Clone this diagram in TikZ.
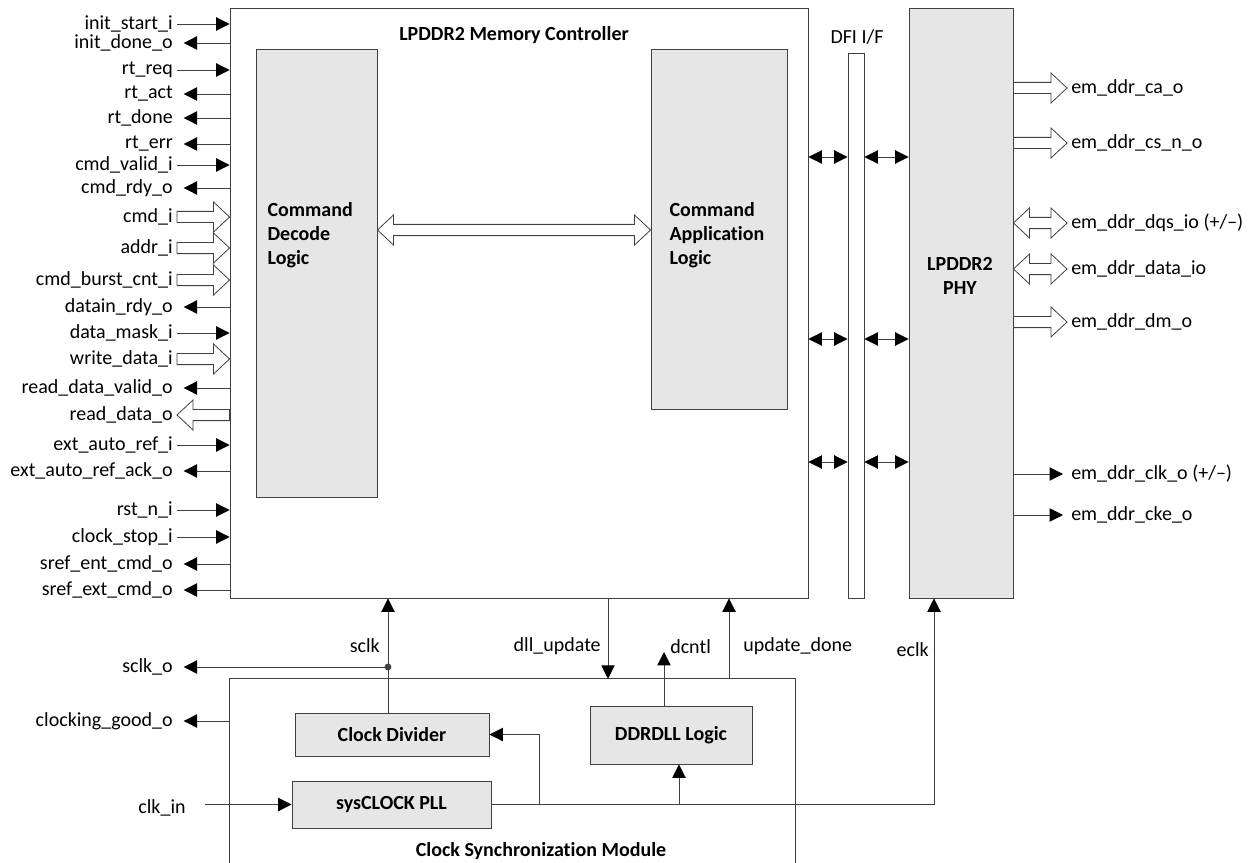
\documentclass[tikz,border=0pt]{standalone}
\usepackage{fontspec}
\setmainfont{Carlito}[Ligatures=NoCommon]
\usetikzlibrary{arrows.meta,calc}
\definecolor{ln}{HTML}{404040}
\definecolor{blk}{HTML}{E6E6E6}
\newcommand{\sg}[1]{\expandafter\detokenize\expandafter{#1}}
\tikzset{
  box/.style={draw=ln,fill=blk,line width=0.7pt,inner sep=0pt},
  frame/.style={draw=ln,fill=white,line width=0.7pt,inner sep=0pt},
  ttl/.style={font=\bfseries\fontsize{15}{18}\selectfont,align=center,inner sep=1pt},
  sig/.style={font=\fontsize{15}{18}\selectfont,inner sep=3pt},
  sin/.style={-{Triangle[length=10pt,width=10pt,black]},ln,line width=0.7pt},
  bi/.style={{Triangle[length=10pt,width=10pt,black]}-{Triangle[length=10pt,width=10pt,black]},ln,line width=0.7pt},
  bus/.style={draw=ln,fill=white,line width=0.6pt,to path={let \p1=(\tikztostart),\p2=(\tikztotarget),\p3=($(\tikztotarget)!12pt!(\tikztostart)$) in
    (\x1,{\y1+4.2pt}) -- (\x3,{\y1+4.2pt}) -- (\x3,{\y1+11.25pt}) -- (\x2,\y1) -- (\x3,{\y1-11.25pt}) -- (\x3,{\y1-4.2pt}) -- (\x1,{\y1-4.2pt}) -- cycle}},
  bbus/.style={draw=ln,fill=white,line width=0.6pt,to path={let \p1=(\tikztostart),\p2=(\tikztotarget),\p3=($(\tikztotarget)!12pt!(\tikztostart)$),\p4=($(\tikztostart)!12pt!(\tikztotarget)$) in
    (\x1,\y1) -- (\x4,{\y1+11.25pt}) -- (\x4,{\y1+4.2pt}) -- (\x3,{\y1+4.2pt}) -- (\x3,{\y1+11.25pt}) -- (\x2,\y1) -- (\x3,{\y1-11.25pt}) -- (\x3,{\y1-4.2pt}) -- (\x4,{\y1-4.2pt}) -- (\x4,{\y1-11.25pt}) -- cycle}},
}
\begin{document}
\begin{tikzpicture}[x=0.75pt,y=-0.75pt]
\useasboundingbox (0,0) rectangle (1253,863);
\node[frame,minimum width=433.5pt,minimum height=442.5pt] (ctrl) at (519,303) {};
\node[box,minimum width=90.75pt,minimum height=336pt] (dec) at (316.5,273) {};
\node[box,minimum width=102pt,minimum height=270pt] (app) at (719,229) {};
\node[frame,minimum width=12pt,minimum height=408.75pt] (dfi) at (856,325.5) {};
\node[box,minimum width=78pt,minimum height=442.5pt] (phy) at (961,303) {};
\node[minimum width=423.75pt,minimum height=138pt,inner sep=0pt] (csm) at (512.5,771) {};
\draw[ln,line width=0.7pt] (csm.south west) -- (csm.north west) -- (csm.north east) -- (csm.south east);
\node[box,ttl,minimum width=145.5pt,minimum height=32.25pt] (cdiv) at (392,734.5) {Clock Divider};
\node[box,ttl,minimum width=149.25pt,minimum height=35.25pt] (pll) at (391.5,804.5) {sysCLOCK PLL};
\node[box,ttl,minimum width=121.5pt,minimum height=43.5pt] (dll) at (671,735) {DDRDLL Logic};
\node[ttl] (ctrlT) at (514,35) {LPDDR2 Memory Controller};
\node[ttl,align=left,anchor=west] (decT) at (266,235) {Command\\Decode\\Logic};
\node[ttl,align=left,anchor=west] (appT) at (668,235) {Command\\Application\\Logic};
\node[sig] (dfiT) at (857,37) {DFI I/F};
\node[ttl] (phyT) at (960,276) {LPDDR2\\PHY};
\node[ttl] (csmT) at (541,851) {Clock Synchronization Module};
\coordinate (cb) at (0,230);
\draw[bbus] (dec.east |- cb) to (app.west |- cb);
\foreach \y [count=\i] in {157,339,462}{
  \coordinate (d\i) at (0,\y);
  \draw[bi] (ctrl.east |- d\i) -- (dfi.west |- d\i);
  \draw[bi] (dfi.east |- d\i) -- (phy.west |- d\i);
}
\foreach \s/\y [count=\i] in {init_start_i/24,rt_req/70,cmd_valid_i/165,data_mask_i/333,ext_auto_ref_i/445,rst_n_i/510,clock_stop_i/537}{
  \node[sig,anchor=east] (li\i) at (177,\y) {\sg{\s}};
  \draw[sin] (li\i.east) -- (li\i.east -| ctrl.west);
}
\foreach \s/\y [count=\i] in {init_done_o/43,rt_act/94,rt_done/118,rt_err/144,cmd_rdy_o/188,datain_rdy_o/307,read_data_valid_o/388,ext_auto_ref_ack_o/471,sref_ent_cmd_o/564,sref_ext_cmd_o/590}{
  \node[sig,anchor=east] (lo\i) at (177,\y) {\sg{\s}};
  \draw[sin,shorten >=5pt] (lo\i.east -| ctrl.west) -- (lo\i.east);
}
\foreach \s/\y [count=\i] in {cmd_i/217,addr_i/248,cmd_burst_cnt_i/280,write_data_i/359}{
  \node[sig,anchor=east] (bi\i) at (177,\y) {\sg{\s}};
  \draw[bus] (bi\i.east) to (bi\i.east -| ctrl.west);
}
\node[sig,anchor=east] (bo1) at (177,415) {\sg{read_data_o}};
\draw[bus] (bo1.east -| ctrl.west) to (bo1.east);
\foreach \s/\y [count=\i] in {em_ddr_ca_o/88,em_ddr_cs_n_o/143,em_ddr_dm_o/322}{
  \node[sig,anchor=west] (ro\i) at (1067,\y) {\sg{\s}};
  \draw[bus] (ro\i.west -| phy.east) to (ro\i.west);
}
\node[sig,anchor=west] (rb1) at (1067,223) {\sg{em_ddr_dqs_io} (+/–)};
\node[sig,anchor=west] (rb2) at (1067,269) {\sg{em_ddr_data_io}};
\draw[bbus] (rb1.west -| phy.east) to (rb1.west);
\draw[bbus] (rb2.west -| phy.east) to (rb2.west);
\node[sig,anchor=west] (rc1) at (1067,474) {\sg{em_ddr_clk_o} (+/–)};
\node[sig,anchor=west] (rc2) at (1067,515) {\sg{em_ddr_cke_o}};
\draw[sin,shorten >=3pt] (rc1.west -| phy.east) -- (rc1.west);
\draw[sin,shorten >=3pt] (rc2.west -| phy.east) -- (rc2.west);
\coordinate (jn) at (388,667);
\draw[sin] (cdiv.north -| jn) -- (jn |- ctrl.south);
\fill[ln] (jn) circle (2.6pt);
\node[sig,anchor=east] (sclkT) at (384,646) {sclk};
\node[sig,anchor=east] (sclko) at (177,667) {\sg{sclk_o}};
\draw[sin,shorten >=5pt] (jn) -- (sclko.east);
\node[sig,anchor=east] (cgo) at (177,721) {\sg{clocking_good_o}};
\draw[sin,shorten >=5pt] (csm.west |- cgo.east) -- (cgo.east);
\node[sig] (clkin) at (162,808) {\sg{clk_in}};
\draw[sin,shorten <=11pt] (clkin.east |- pll.west) -- (pll.west);
\coordinate (ek) at (934,0);
\draw[sin] (pll.east) -| (ek |- phy.south);
\node[sig,anchor=east] (eclkT) at (933,650) {eclk};
\coordinate (b1) at (539,0);
\draw[sin] (pll.east -| b1) |- (cdiv.east);
\coordinate (b2) at (679,0);
\draw[sin] (pll.east -| b2) -- (b2 |- dll.south);
\coordinate (du) at (608,0);
\draw[sin] (du |- ctrl.south) -- (du |- csm.north);
\node[sig,anchor=east] (duT) at (605,646) {\sg{dll_update}};
\coordinate (dc) at (664,652);
\draw[sin] (dc |- dll.north) -- (dc);
\node[sig,anchor=west] (dcT) at (666,647) {dcntl};
\coordinate (ud) at (729,0);
\draw[sin] (ud |- csm.north) -- (ud |- ctrl.south);
\node[sig,anchor=west] (udT) at (739,646) {\sg{update_done}};
\end{tikzpicture}
\end{document}
